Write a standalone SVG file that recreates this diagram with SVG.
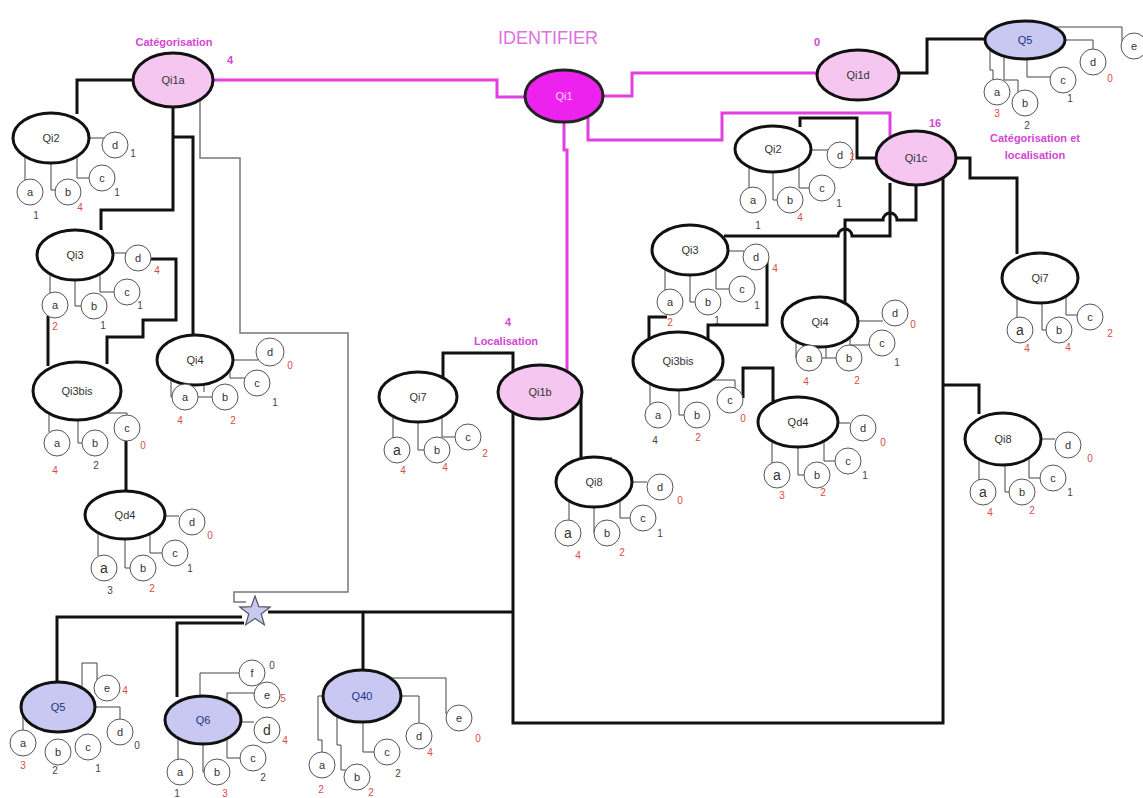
<svg xmlns="http://www.w3.org/2000/svg" width="1143" height="798" viewBox="0 0 1143 798">
<style>
text{font-family:"Liberation Sans",Arial,sans-serif}
.thk{fill:none;stroke:#111;stroke-width:3}
.pk{fill:none;stroke:#e23ee2;stroke-width:3}
.gr{fill:none;stroke:#777;stroke-width:1.5}
.st{fill:none;stroke:#444;stroke-width:1}
.q{fill:#fff;stroke:#111;stroke-width:3}
.qp{fill:#f5c6f0;stroke:#111;stroke-width:3}
.qm{fill:#ee22ee;stroke:#222;stroke-width:3}
.ql{fill:#c8c8f2;stroke:#111;stroke-width:3}
.ans{fill:#fff;stroke:#555;stroke-width:1}
.nl{font-size:11px;fill:#333;text-anchor:middle}
.nlb{font-size:11px;fill:#223388;text-anchor:middle}
.al{font-size:11px;fill:#333;text-anchor:middle}
.alb{font-size:14px;fill:#333;text-anchor:middle}
.r{font-size:10px;fill:#d94a4a;text-anchor:middle}
.k{font-size:10px;fill:#444;text-anchor:middle}
.pl{font-size:11px;font-weight:bold;fill:#d246d2;text-anchor:middle}
</style>
<rect width="1143" height="798" fill="#fff"/>
<g id="connectors">
<path class="pk" d="M213,80 H497 V97 H525"/>
<path class="pk" d="M603,96 H632 V73 H817"/>
<path class="pk" d="M588,117 V140 H722 V113 H890 V138"/>
<path class="pk" d="M564,122 V150 H567 V371"/>
<path class="gr" d="M200,100 V158 H240 V333 H348 V592 H234 V602 H246"/>
<path class="thk" d="M133,80 H77 V114"/>
<path class="thk" d="M173,107 V210 H101 V230"/>
<path class="thk" d="M173,137 H193 V335"/>
<path class="thk" d="M151,259 H176 V320 H143 V337 H107 V364"/>
<path class="thk" d="M48,316 V366"/>
<path class="thk" d="M126,441 V491"/>
<path class="thk" d="M268,612 H513"/>
<path class="thk" d="M57,682 V617 H242"/>
<path class="thk" d="M177,697 V623 H244"/>
<path class="thk" d="M363,612 V670"/>
<path class="thk" d="M513,372 V353 H443 V378"/>
<path class="thk" d="M513,412 V723 H943 V178"/>
<path class="thk" d="M581,392 V459 H612"/>
<path class="thk" d="M899,73 H927 V39 H985"/>
<path class="thk" d="M956,158 H970 V178 H1017 V254"/>
<path class="thk" d="M943,385 H979 V414"/>
<path class="thk" d="M800,127 V118 H857 V158 H876"/>
<path class="thk" d="M890,183 V236 H852 A7,7 0 0 0 838,236 H724"/>
<path class="thk" d="M916,185 V220 H897 A7,7 0 0 0 883,220 H845 V303"/>
<path class="thk" d="M767,253 V325 H708 V339"/>
<path class="thk" d="M667,317 H649 V340"/>
<path class="thk" d="M743,398 V368 H773 V403"/>
<path class="st" d="M89,138 H104 M77,156 V178 H89 M51,163 V190 H56 M25,156 V180"/>
<path class="st" d="M113,253 H126 M100,274 V292 H114 M75,280 V306 H81 M50,274 V293"/>
<path class="st" d="M105,413 H127 V415 M78,420 V443 H82 M49,413 V432"/>
<path class="st" d="M165,516 H179 M150,534 V553 H162 M125,539 V568 H130 M98,533 V556"/>
<path class="st" d="M233,360 H258 M171,379 V397 H172 M198,397 H212 M204,384 V392 M230,371 V378 H245"/>
<path class="st" d="M82,688 V663 H97 V680 M95,707 H120 V719 M23,707 V730"/>
<path class="st" d="M200,696 V673 H239 M227,701 V693 H254 M241,722 H254 M227,739 V758 H240 M203,744 V772 H204 M178,738 V759"/>
<path class="st" d="M390,678 H446 V714 M401,696 H419 V723 M363,722 V752 H374 M337,717 V745 H341 V770 H348 M323,696 H318 V740 H322 V752"/>
<path class="st" d="M1054,27 H1122 V41 M1065,40 H1093 V49 M1027,59 V77 H1050 M1004,56 V80 H1018 V92 M990,49 V70 H993 V80"/>
<path class="st" d="M811,150 H828 M799,166 V188 H809 M773,172 V200 H777 M749,167 V188"/>
<path class="st" d="M728,251 H744 M716,268 V289 H729 M690,275 V302 H695 M665,269 V290"/>
<path class="st" d="M712,380 H735 V388 M679,390 V415 H684 M650,384 V405"/>
<path class="st" d="M838,423 H850 M824,441 V461 H835 M798,447 V475 H804 M772,441 V463"/>
<path class="st" d="M857,321 H883 M796,341 V358 M822,358 H836 M826,347 V358 M850,337 V345 H869"/>
<path class="st" d="M1066,296 V315 H1077 M1042,303 V330 H1046 M1017,298 V317"/>
<path class="st" d="M1041,439 H1055 M1029,458 V478 H1040 M1005,465 V492 H1009 M979,459 V480"/>
<path class="st" d="M442,417 V437 H455 M418,422 V450 H424 M393,416 V438"/>
<path class="st" d="M632,482 H647 M620,500 V518 H630 M594,507 V533 M569,501 V520"/>
</g>
<g id="labels">
<text class="pl" x="174" y="46">Catégorisation</text>
<text class="pl" x="230" y="64">4</text>
<text x="548" y="44" font-size="18" fill="#e070e0" text-anchor="middle">IDENTIFIER</text>
<text class="pl" x="817" y="46">0</text>
<text class="pl" x="935" y="127">16</text>
<text class="pl" x="1035" y="142">Catégorisation et</text>
<text class="pl" x="1035" y="159">localisation</text>
<text class="pl" x="508" y="326">4</text>
<text class="pl" x="506" y="345">Localisation</text>
</g>
<g id="Qi1">
<ellipse class="qm" cx="564" cy="96" rx="39" ry="26"/>
<text class="nl" x="564" y="100" style="fill:#fcd8fc">Qi1</text>
</g>
<g id="Qi1a">
<ellipse class="qp" cx="173" cy="80" rx="40" ry="27"/>
<text class="nl" x="173" y="84">Qi1a</text>
</g>
<g id="Qi1b">
<ellipse class="qp" cx="540" cy="392" rx="42" ry="27"/>
<text class="nl" x="540" y="396">Qi1b</text>
</g>
<g id="Qi1c">
<ellipse class="qp" cx="916" cy="158" rx="40" ry="27"/>
<text class="nl" x="916" y="162">Qi1c</text>
</g>
<g id="Qi1d">
<ellipse class="qp" cx="858" cy="75" rx="41" ry="25"/>
<text class="nl" x="858" y="79">Qi1d</text>
</g>
<g id="star">
<polygon points="255,596 258.8,606.7 270.2,607.1 261.2,614 264.4,624.9 255,618.5 245.6,624.9 248.8,614 239.8,607.1 251.2,606.7" fill="#c8c8f2" stroke="#555" stroke-width="1.2"/>
</g>
<g id="Qi2-a">
<ellipse class="q" cx="51" cy="138" rx="38" ry="25"/>
<text class="nl" x="51" y="142">Qi2</text>
<circle class="ans" cx="115" cy="145" r="13"/><text class="al" x="115" y="149">d</text>
<circle class="ans" cx="102" cy="178" r="13"/><text class="al" x="102" y="182">c</text>
<circle class="ans" cx="68" cy="192" r="13"/><text class="al" x="68" y="196">b</text>
<circle class="ans" cx="30" cy="192" r="13"/><text class="al" x="30" y="196">a</text>
<text class="k" x="133" y="157">1</text><text class="k" x="117" y="196">1</text><text class="r" x="80" y="211">4</text><text class="k" x="36" y="219">1</text>
</g>
<g id="Qi3-a">
<ellipse class="q" cx="75" cy="255" rx="38" ry="25"/>
<text class="nl" x="75" y="259">Qi3</text>
<circle class="ans" cx="138" cy="258" r="13"/><text class="al" x="138" y="262">d</text>
<circle class="ans" cx="127" cy="292" r="13"/><text class="al" x="127" y="296">c</text>
<circle class="ans" cx="94" cy="306" r="13"/><text class="al" x="94" y="310">b</text>
<circle class="ans" cx="55" cy="305" r="13"/><text class="al" x="55" y="309">a</text>
<text class="r" x="157" y="274">4</text><text class="k" x="140" y="309">1</text><text class="k" x="103" y="329">1</text><text class="r" x="55" y="330">2</text>
</g>
<g id="Qi3bis-a">
<ellipse class="q" cx="77" cy="391" rx="44" ry="29"/>
<text class="nl" x="77" y="395">Qi3bis</text>
<circle class="ans" cx="127" cy="428" r="13"/><text class="al" x="127" y="432">c</text>
<circle class="ans" cx="95" cy="443" r="13"/><text class="al" x="95" y="447">b</text>
<circle class="ans" cx="57" cy="443" r="13"/><text class="al" x="57" y="447">a</text>
<text class="r" x="143" y="449">0</text><text class="k" x="96" y="469">2</text><text class="r" x="55" y="474">4</text>
</g>
<g id="Qd4-a">
<ellipse class="q" cx="125" cy="515" rx="40" ry="24"/>
<text class="nl" x="125" y="519">Qd4</text>
<circle class="ans" cx="192" cy="522" r="13"/><text class="al" x="192" y="526">d</text>
<circle class="ans" cx="175" cy="553" r="13"/><text class="al" x="175" y="557">c</text>
<circle class="ans" cx="143" cy="568" r="13"/><text class="al" x="143" y="572">b</text>
<circle class="ans" cx="104" cy="568" r="13"/><text class="alb" x="104" y="573">a</text>
<text class="r" x="210" y="539">0</text><text class="k" x="190" y="572">1</text><text class="r" x="152" y="592">2</text><text class="k" x="110" y="594">3</text>
</g>
<g id="Qi4-a">
<ellipse class="q" cx="195" cy="360" rx="38" ry="25"/>
<text class="nl" x="195" y="364">Qi4</text>
<circle class="ans" cx="270" cy="352" r="14"/><text class="al" x="270" y="356">d</text>
<circle class="ans" cx="257" cy="383" r="13"/><text class="al" x="257" y="387">c</text>
<circle class="ans" cx="225" cy="397" r="13"/><text class="al" x="225" y="401">b</text>
<circle class="ans" cx="185" cy="397" r="13"/><text class="al" x="185" y="401">a</text>
<text class="r" x="290" y="369">0</text><text class="k" x="275" y="406">1</text><text class="r" x="233" y="424">2</text><text class="r" x="180" y="424">4</text>
</g>
<g id="Q5-bottom">
<ellipse class="ql" cx="58" cy="707" rx="37" ry="25"/>
<text class="nlb" x="58" y="711">Q5</text>
<circle class="ans" cx="107" cy="688" r="13"/><text class="al" x="107" y="692">e</text>
<circle class="ans" cx="120" cy="732" r="13"/><text class="al" x="120" y="736">d</text>
<circle class="ans" cx="88" cy="747" r="13"/><text class="al" x="88" y="751">c</text>
<circle class="ans" cx="58" cy="752" r="13"/><text class="al" x="58" y="756">b</text>
<circle class="ans" cx="23" cy="743" r="13"/><text class="al" x="23" y="747">a</text>
<text class="r" x="125" y="694">4</text><text class="k" x="137" y="749">0</text><text class="k" x="98" y="772">1</text><text class="k" x="55" y="774">2</text><text class="r" x="23" y="769">3</text>
</g>
<g id="Q6">
<ellipse class="ql" cx="203" cy="720" rx="38" ry="24"/>
<text class="nlb" x="203" y="724">Q6</text>
<circle class="ans" cx="252" cy="673" r="13"/><text class="al" x="252" y="677">f</text>
<circle class="ans" cx="267" cy="695" r="13"/><text class="al" x="267" y="699">e</text>
<circle class="ans" cx="267" cy="730" r="13"/><text class="alb" x="267" y="735">d</text>
<circle class="ans" cx="253" cy="758" r="13"/><text class="al" x="253" y="762">c</text>
<circle class="ans" cx="217" cy="772" r="13"/><text class="al" x="217" y="776">b</text>
<circle class="ans" cx="180" cy="772" r="13"/><text class="al" x="180" y="776">a</text>
<text class="k" x="272" y="669">0</text><text class="r" x="283" y="702">5</text><text class="r" x="285" y="744">4</text><text class="k" x="263" y="781">2</text><text class="r" x="225" y="797">3</text><text class="k" x="177" y="797">1</text>
</g>
<g id="Q40">
<ellipse class="ql" cx="362" cy="696" rx="39" ry="26"/>
<text class="nlb" x="362" y="700">Q40</text>
<circle class="ans" cx="459" cy="718" r="13"/><text class="al" x="459" y="722">e</text>
<circle class="ans" cx="419" cy="736" r="13"/><text class="al" x="419" y="740">d</text>
<circle class="ans" cx="387" cy="752" r="13"/><text class="al" x="387" y="756">c</text>
<circle class="ans" cx="357" cy="777" r="13"/><text class="al" x="357" y="781">b</text>
<circle class="ans" cx="322" cy="765" r="13"/><text class="al" x="322" y="769">a</text>
<text class="r" x="478" y="742">0</text><text class="r" x="430" y="756">4</text><text class="k" x="398" y="777">2</text><text class="r" x="371" y="796">2</text><text class="r" x="321" y="793">2</text>
</g>
<g id="Q5-top">
<ellipse class="ql" cx="1025" cy="40" rx="40" ry="19"/>
<text class="nlb" x="1025" y="44">Q5</text>
<circle class="ans" cx="1134" cy="46" r="13"/><text class="al" x="1134" y="50">e</text>
<circle class="ans" cx="1093" cy="62" r="13"/><text class="al" x="1093" y="66">d</text>
<circle class="ans" cx="1063" cy="80" r="13"/><text class="al" x="1063" y="84">c</text>
<circle class="ans" cx="1025" cy="103" r="13"/><text class="al" x="1025" y="107">b</text>
<circle class="ans" cx="997" cy="92" r="13"/><text class="al" x="997" y="96">a</text>
<text class="r" x="1110" y="82">0</text><text class="k" x="1070" y="102">1</text><text class="k" x="1027" y="129">2</text><text class="r" x="997" y="117">3</text>
</g>
<g id="Qi2-c">
<ellipse class="q" cx="773" cy="149" rx="38" ry="23"/>
<text class="nl" x="773" y="153">Qi2</text>
<circle class="ans" cx="840" cy="155" r="13"/><text class="al" x="840" y="159">d</text>
<circle class="ans" cx="822" cy="188" r="13"/><text class="al" x="822" y="192">c</text>
<circle class="ans" cx="790" cy="200" r="13"/><text class="al" x="790" y="204">b</text>
<circle class="ans" cx="753" cy="200" r="13"/><text class="al" x="753" y="204">a</text>
<text class="r" x="852" y="160">1</text><text class="k" x="839" y="207">1</text><text class="r" x="800" y="221">4</text><text class="k" x="758" y="229">1</text>
</g>
<g id="Qi3-c">
<ellipse class="q" cx="690" cy="250" rx="38" ry="25"/>
<text class="nl" x="690" y="254">Qi3</text>
<circle class="ans" cx="756" cy="257" r="13"/><text class="al" x="756" y="261">d</text>
<circle class="ans" cx="742" cy="289" r="13"/><text class="al" x="742" y="293">c</text>
<circle class="ans" cx="708" cy="302" r="13"/><text class="al" x="708" y="306">b</text>
<circle class="ans" cx="670" cy="302" r="13"/><text class="al" x="670" y="306">a</text>
<text class="r" x="775" y="272">4</text><text class="k" x="757" y="309">1</text><text class="k" x="717" y="324">1</text><text class="r" x="670" y="326">2</text>
</g>
<g id="Qi3bis-c">
<ellipse class="q" cx="678" cy="361" rx="45" ry="29"/>
<text class="nl" x="678" y="365">Qi3bis</text>
<circle class="ans" cx="730" cy="400" r="13"/><text class="al" x="730" y="404">c</text>
<circle class="ans" cx="697" cy="415" r="13"/><text class="al" x="697" y="419">b</text>
<circle class="ans" cx="658" cy="415" r="13"/><text class="al" x="658" y="419">a</text>
<text class="r" x="743" y="422">0</text><text class="r" x="698" y="441">2</text><text class="k" x="655" y="444">4</text>
</g>
<g id="Qd4-c">
<ellipse class="q" cx="798" cy="422" rx="40" ry="25"/>
<text class="nl" x="798" y="426">Qd4</text>
<circle class="ans" cx="863" cy="428" r="13"/><text class="al" x="863" y="432">d</text>
<circle class="ans" cx="848" cy="461" r="13"/><text class="al" x="848" y="465">c</text>
<circle class="ans" cx="817" cy="475" r="13"/><text class="al" x="817" y="479">b</text>
<circle class="ans" cx="777" cy="475" r="13"/><text class="alb" x="777" y="480">a</text>
<text class="r" x="883" y="446">0</text><text class="k" x="865" y="479">1</text><text class="r" x="823" y="496">2</text><text class="r" x="782" y="499">3</text>
</g>
<g id="Qi4-c">
<ellipse class="q" cx="820" cy="322" rx="38" ry="25"/>
<text class="nl" x="820" y="326">Qi4</text>
<circle class="ans" cx="895" cy="313" r="13"/><text class="al" x="895" y="317">d</text>
<circle class="ans" cx="882" cy="343" r="13"/><text class="al" x="882" y="347">c</text>
<circle class="ans" cx="849" cy="358" r="13"/><text class="al" x="849" y="362">b</text>
<circle class="ans" cx="809" cy="358" r="13"/><text class="al" x="809" y="362">a</text>
<text class="r" x="913" y="328">0</text><text class="k" x="897" y="366">1</text><text class="r" x="857" y="384">2</text><text class="r" x="806" y="385">4</text>
</g>
<g id="Qi7-c">
<ellipse class="q" cx="1040" cy="278" rx="38" ry="25"/>
<text class="nl" x="1040" y="282">Qi7</text>
<circle class="ans" cx="1090" cy="317" r="13"/><text class="al" x="1090" y="321">c</text>
<circle class="ans" cx="1059" cy="330" r="13"/><text class="al" x="1059" y="334">b</text>
<circle class="ans" cx="1020" cy="330" r="13"/><text class="alb" x="1020" y="335">a</text>
<text class="r" x="1110" y="337">2</text><text class="r" x="1068" y="351">4</text><text class="r" x="1027" y="352">4</text>
</g>
<g id="Qi8-c">
<ellipse class="q" cx="1003" cy="439" rx="38" ry="26"/>
<text class="nl" x="1003" y="443">Qi8</text>
<circle class="ans" cx="1068" cy="445" r="13"/><text class="al" x="1068" y="449">d</text>
<circle class="ans" cx="1053" cy="478" r="13"/><text class="al" x="1053" y="482">c</text>
<circle class="ans" cx="1022" cy="492" r="13"/><text class="al" x="1022" y="496">b</text>
<circle class="ans" cx="983" cy="492" r="13"/><text class="alb" x="983" y="497">a</text>
<text class="r" x="1090" y="462">0</text><text class="k" x="1070" y="496">1</text><text class="r" x="1032" y="514">2</text><text class="r" x="990" y="516">4</text>
</g>
<g id="Qi7-b">
<ellipse class="q" cx="418" cy="397" rx="39" ry="25"/>
<text class="nl" x="418" y="401">Qi7</text>
<circle class="ans" cx="468" cy="437" r="13"/><text class="al" x="468" y="441">c</text>
<circle class="ans" cx="437" cy="450" r="13"/><text class="al" x="437" y="454">b</text>
<circle class="ans" cx="397" cy="450" r="13"/><text class="alb" x="397" y="455">a</text>
<text class="r" x="485" y="457">2</text><text class="r" x="445" y="471">4</text><text class="r" x="403" y="474">4</text>
</g>
<g id="Qi8-b">
<ellipse class="q" cx="594" cy="482" rx="38" ry="25"/>
<text class="nl" x="594" y="486">Qi8</text>
<circle class="ans" cx="660" cy="487" r="13"/><text class="al" x="660" y="491">d</text>
<circle class="ans" cx="643" cy="518" r="13"/><text class="al" x="643" y="522">c</text>
<circle class="ans" cx="607" cy="533" r="13"/><text class="al" x="607" y="537">b</text>
<circle class="ans" cx="568" cy="533" r="13"/><text class="alb" x="568" y="538">a</text>
<text class="r" x="680" y="504">0</text><text class="k" x="660" y="537">1</text><text class="r" x="622" y="556">2</text><text class="r" x="578" y="559">4</text>
</g>
</svg>
